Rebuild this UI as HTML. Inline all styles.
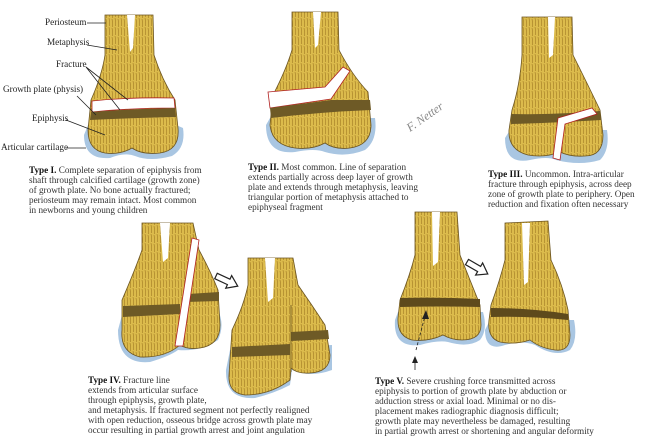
<!DOCTYPE html>
<html><head><meta charset="utf-8"><style>
html,body{margin:0;padding:0;background:#fff;width:650px;height:436px;overflow:hidden;position:relative}
svg{position:absolute;left:0;top:0}
.t{position:absolute;font-family:"Liberation Serif",serif;font-size:9.2px;line-height:10px;color:#333;white-space:nowrap}
.t b{color:#111}
.l{position:absolute;font-family:"Liberation Serif",serif;font-size:9.2px;color:#222;white-space:nowrap}
</style></head><body>
<svg width="650" height="436" viewBox="0 0 650 436">
<defs>
<pattern id="p" width="6" height="9" patternUnits="userSpaceOnUse"><rect width="6" height="9" fill="#dcbb4c"/><path d="M1 0 Q2 4 1.5 8 M4 1 Q5 5 4.5 9" stroke="#a98328" stroke-width="0.7" fill="none"/></pattern>
</defs>
<g stroke="#6b5420" stroke-width="0.8">
<!-- Type I -->
<path d="M84,135 Q84,160 110,158 Q125,152 135,156 Q150,162 172,156 Q186,148 183,128 L176,125 L88,125 Z" fill="#a9c6e2" stroke="none"/>
<path d="M105,15 L153,15 L154,55 Q162,80 175,100 L178,128 Q180,150 160,153 Q142,155 132,148 Q120,155 105,153 Q88,150 88,130 L91,100 Q102,75 105,55 Z" fill="url(#p)"/>
<path d="M127,15 L135,15 L133,48 L130,52 Z" fill="#fff" stroke="none"/>
<path d="M92,101 Q130,97 174,98 L175,108 Q130,108 92,112 Z" fill="#fff" stroke="#b02020"/>
<path d="M91,112 Q130,109 175,108 L176,117 Q130,118 90,120 Z" fill="#6e5a26" stroke="none"/>
<!-- Type II -->
<path d="M266,125 Q266,155 295,152 Q315,148 325,152 Q345,158 365,150 Q378,140 375,118 L270,118 Z" fill="#a9c6e2" stroke="none"/>
<path d="M292,12 L338,12 L339,50 Q352,75 368,92 L371,125 Q371,145 350,148 Q335,150 325,143 Q312,150 295,148 Q272,145 270,125 L273,95 Q286,70 292,50 Z" fill="url(#p)"/>
<path d="M313,12 L321,12 L318,45 L315,48 Z" fill="#fff" stroke="none"/>
<path d="M268,92 L325,87 L343,67 L350,71 L331,99 L270,108 Z" fill="#fff" stroke="#b02020"/>
<path d="M270,108 L331,100 L370,100 L371,110 Q320,112 271,118 Z" fill="#6e5a26" stroke="none"/>
<!-- Type III -->
<path d="M505,138 Q505,165 530,160 Q548,156 556,160 Q580,166 600,160 Q610,150 607,130 L510,130 Z" fill="#a9c6e2" stroke="none"/>
<path d="M522,17 L572,17 L573,55 Q588,85 600,110 L603,135 Q603,156 585,156 Q570,157 560,152 Q545,158 528,155 Q508,150 509,130 L512,110 Q520,85 522,55 Z" fill="url(#p)"/>
<path d="M548,17 L555,17 L553,55 L549,58 Z" fill="#fff" stroke="none"/>
<path d="M511,114 Q550,115 600,111 L601,120 Q550,123 511,124 Z" fill="#6e5a26" stroke="none"/>
<path d="M553,158 L558,118 L592,108 L597,114 L565,124 L560,160 Z" fill="#fff" stroke="#b02020"/>
<!-- Type IV bone1 -->
<path d="M118,330 Q118,365 150,362 Q170,356 178,350 Q200,352 218,340 Q225,325 218,310 L122,315 Z" fill="#a9c6e2" stroke="none"/>
<path d="M142,223 L193,223 L199,250 Q210,270 218,290 L220,325 Q220,345 200,348 Q188,350 180,345 Q165,358 140,357 Q120,352 122,330 L122,300 Q135,270 142,250 Z" fill="url(#p)"/>
<path d="M160,223 L170,223 L168,258 L163,262 Z" fill="#fff" stroke="none"/>
<path d="M123,306 L180,304 L180,314 L123,317 Z" fill="#6e5a26" stroke="none"/>
<path d="M188,294 L219,292 L219,301 L186,302 Z" fill="#6e5a26" stroke="none"/>
<path d="M192,238 L199,240 L183,346 L175,346 Z" fill="#fff" stroke="#b02020"/>
<!-- Type IV fragment -->
<path d="M226,370 Q225,400 255,398 Q275,393 290,385 L292,370 Q310,378 332,370 L332,345 L230,350 Z" fill="#a9c6e2" stroke="none"/>
<path d="M248,258 L293,258 L298,285 Q312,305 325,325 L330,355 Q330,372 310,373 Q297,374 291,368 L290,380 Q270,395 245,395 Q228,393 229,375 L232,330 Q244,305 248,285 Z" fill="url(#p)"/>
<path d="M265,258 L275,258 L273,298 L268,302 Z" fill="#fff" stroke="none"/>
<path d="M232,347 L290,344 L290,355 L232,357 Z" fill="#6e5a26" stroke="none"/>
<path d="M291,332 L328,330 L329,339 L291,341 Z" fill="#6e5a26" stroke="none"/>
<path d="M291,305 L291,372" stroke="#6b5420"/>
<!-- Type V bone1 -->
<path d="M395,320 Q393,348 420,345 Q438,340 448,342 Q468,348 480,340 Q488,330 483,312 L398,312 Z" fill="#a9c6e2" stroke="none"/>
<path d="M415,212 L457,212 L460,255 Q472,285 480,305 L481,325 Q481,340 462,340 Q452,340 443,335 Q428,342 412,340 Q397,336 398,318 L400,300 Q410,275 415,255 Z" fill="url(#p)"/>
<path d="M432,212 L440,212 L438,262 L433,266 Z" fill="#fff" stroke="none"/>
<path d="M400,298 Q440,297 480,299 L480,307 Q440,306 400,307 Z" fill="#5e4a1c" stroke="none"/>
<!-- Type V bone2 -->
<path d="M485,330 Q485,352 505,345 Q522,340 535,345 Q555,358 570,350 Q578,340 574,320 L490,320 Z" fill="#a9c6e2" stroke="none"/>
<path d="M505,223 L548,221 L551,260 Q563,285 568,310 L570,335 Q570,352 555,350 Q540,348 530,340 Q515,345 500,342 Q487,338 489,320 L491,305 Q500,280 505,260 Z" fill="url(#p)"/>
<path d="M522,223 L530,223 L528,282 L524,285 Z" fill="#fff" stroke="none"/>
<path d="M491,308 Q530,308 568,314 L568,320 Q530,316 491,317 Z" fill="#5e4a1c" stroke="none"/>
</g>
<!-- leader lines -->
<g stroke="#222" stroke-width="0.8" fill="none">
<path d="M87,23 L106,23"/><path d="M87,45 L117,50"/><path d="M86,67 L128,100 M86,67 L120,110"/>
<path d="M77,96 L96,115"/><path d="M66,120 L105,135"/><path d="M66,148 L86,148"/>
<path d="M416,350 L425,316" stroke-dasharray="3,2"/>
<path d="M415,370 L415,360"/>
</g>
<path d="M426,310 L422,319 L429,319 Z" fill="#222"/>
<path d="M415,356 L412,363 L418,363 Z" fill="#222"/>
<!-- hollow arrows -->
<g fill="#fff" stroke="#222" stroke-width="1.2">
<path d="M0,-3 L14,-3 L14,-7 L24,0 L14,7 L14,3 L0,3 Z" transform="translate(216,276) rotate(25)"/>
<path d="M0,-3 L14,-3 L14,-7 L24,0 L14,7 L14,3 L0,3 Z" transform="translate(467,262) rotate(30)"/>
</g>
<text x="0" y="0" font-family="Liberation Serif,serif" font-style="italic" font-size="12" fill="#888" transform="translate(410,132) rotate(-35)">F. Netter</text>
</svg>
<div class="l" style="left:45px;top:17px">Periosteum</div>
<div class="l" style="left:47px;top:37px">Metaphysis</div>
<div class="l" style="left:56px;top:59px">Fracture</div>
<div class="l" style="left:3px;top:84px">Growth plate (physis)</div>
<div class="l" style="left:32px;top:113px">Epiphysis</div>
<div class="l" style="left:1px;top:142px">Articular cartilage</div>
<div class="t" style="left:29px;top:165px"><b>Type I.</b> Complete separation of epiphysis from<br>shaft through calcified cartilage (growth zone)<br>of growth plate. No bone actually fractured;<br>periosteum may remain intact. Most common<br>in newborns and young children</div>
<div class="t" style="left:248px;top:162px"><b>Type II.</b> Most common. Line of separation<br>extends partially across deep layer of growth<br>plate and extends through metaphysis, leaving<br>triangular portion of metaphysis attached to<br>epiphyseal fragment</div>
<div class="t" style="left:488px;top:169px"><b>Type III.</b> Uncommon. Intra-articular<br>fracture through epiphysis, across deep<br>zone of growth plate to periphery. Open<br>reduction and fixation often necessary</div>
<div class="t" style="left:88px;top:375px"><b>Type IV.</b> Fracture line<br>extends from articular surface<br>through epiphysis, growth plate,<br>and metaphysis. If fractured segment not perfectly realigned<br>with open reduction, osseous bridge across growth plate may<br>occur resulting in partial growth arrest and joint angulation</div>
<div class="t" style="left:375px;top:376px"><b>Type V.</b> Severe crushing force transmitted across<br>epiphysis to portion of growth plate by abduction or<br>adduction stress or axial load. Minimal or no dis-<br>placement makes radiographic diagnosis difficult;<br>growth plate may nevertheless be damaged, resulting<br>in partial growth arrest or shortening and angular deformity</div>
</body></html>
